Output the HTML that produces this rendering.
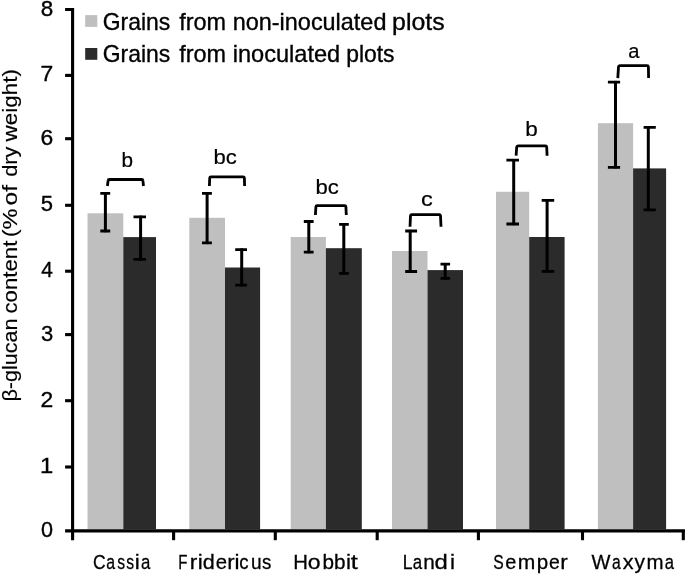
<!DOCTYPE html>
<html><head><meta charset="utf-8"><title>chart</title>
<style>
html,body{margin:0;padding:0;background:#fff;}
body{width:685px;height:574px;overflow:hidden;}
svg{display:block;filter:grayscale(1);}
text{font-family:"Liberation Sans",sans-serif;fill:#000;stroke:#000;stroke-width:0.35px;}
</style></head><body>
<svg width="685" height="574" viewBox="0 0 685 574">
<rect width="685" height="574" fill="#fff"/>
<rect x="87.5" y="213.3" width="35.8" height="316.0" fill="#bfbfbf"/>
<rect x="123.3" y="237.1" width="32.7" height="292.2" fill="#2b2b2b"/>
<rect x="189.3" y="217.8" width="35.7" height="311.5" fill="#bfbfbf"/>
<rect x="225.0" y="267.5" width="35.1" height="261.8" fill="#2b2b2b"/>
<rect x="290.7" y="237.0" width="35.2" height="292.3" fill="#bfbfbf"/>
<rect x="325.9" y="248.2" width="35.9" height="281.1" fill="#2b2b2b"/>
<rect x="392.0" y="251.0" width="35.5" height="278.3" fill="#bfbfbf"/>
<rect x="427.5" y="270.1" width="35.5" height="259.2" fill="#2b2b2b"/>
<rect x="496.0" y="191.8" width="33.2" height="337.5" fill="#bfbfbf"/>
<rect x="529.2" y="237.0" width="35.4" height="292.3" fill="#2b2b2b"/>
<rect x="597.9" y="123.2" width="35.2" height="406.1" fill="#bfbfbf"/>
<rect x="633.1" y="168.4" width="33.0" height="360.9" fill="#2b2b2b"/>
<g stroke="#000" stroke-width="3.1" fill="none">
<path d="M65.1 9.50H72.6V540.2"/>
<path d="M65.1 530.85H685"/>
<path d="M65.1 467.00H72.6"/>
<path d="M65.1 400.70H72.6"/>
<path d="M65.1 334.60H72.6"/>
<path d="M65.1 271.20H72.6"/>
<path d="M65.1 205.30H72.6"/>
<path d="M65.1 138.70H72.6"/>
<path d="M65.1 75.40H72.6"/>
<path d="M173.60 530.85V540.2"/>
<path d="M275.30 530.85V540.2"/>
<path d="M377.20 530.85V540.2"/>
<path d="M478.40 530.85V540.2"/>
<path d="M582.50 530.85V540.2"/>
<path d="M683.30 530.85V540.2"/>
</g>
<g stroke="#000" stroke-width="3.1" fill="none">
<path d="M105.4 192.1V232.2" stroke-width="3.0"/><path d="M100.3 193.3H110.2M100.3 231.0H110.2" stroke-width="2.8"/>
<path d="M140.6 215.6V260.6" stroke-width="3.0"/><path d="M133.5 216.8H146.0M133.5 259.4H146.0" stroke-width="2.8"/>
<path d="M207.1 192.1V244.1" stroke-width="3.0"/><path d="M202.0 193.3H211.9M202.0 242.9H211.9" stroke-width="2.8"/>
<path d="M241.7 248.4V286.4" stroke-width="3.0"/><path d="M235.2 249.6H247.0M235.2 285.2H247.0" stroke-width="2.8"/>
<path d="M308.8 220.3V253.3" stroke-width="3.0"/><path d="M303.8 221.5H313.6M303.8 252.1H313.6" stroke-width="2.8"/>
<path d="M343.8 223.1V274.6" stroke-width="3.0"/><path d="M339.1 224.3H348.8M339.1 273.4H348.8" stroke-width="2.8"/>
<path d="M410.2 229.8V272.7" stroke-width="3.0"/><path d="M405.2 231.0H417.1M405.2 271.5H417.1" stroke-width="2.8"/>
<path d="M445.2 263.0V279.5" stroke-width="3.0"/><path d="M440.5 264.2H450.1M440.5 278.3H450.1" stroke-width="2.8"/>
<path d="M513.7 159.0V225.2" stroke-width="3.0"/><path d="M506.4 160.2H519.0M506.4 224.0H519.0" stroke-width="2.8"/>
<path d="M547.1 199.2V272.6" stroke-width="3.0"/><path d="M541.7 200.4H554.2M541.7 271.4H554.2" stroke-width="2.8"/>
<path d="M615.5 80.9V168.5" stroke-width="3.0"/><path d="M607.9 82.1H620.1M607.9 167.3H620.1" stroke-width="2.8"/>
<path d="M648.3 126.2V211.1" stroke-width="3.0"/><path d="M643.6 127.4H655.8M643.6 209.9H655.8" stroke-width="2.8"/>
</g>
<g stroke="#000" stroke-width="2.8" fill="none" stroke-linejoin="round">
<path d="M107.4 186.0L108.1 180.7Q108.2 179.5 109.4 179.5H141.6Q142.8 179.5 142.9 180.7L143.5 186.0"/>
<path d="M209.4 186.0L209.7 178.1Q209.8 176.9 211.0 176.9H243.1Q244.3 176.9 244.4 178.1L244.6 186.0"/>
<path d="M315.4 215.0L315.9 206.8Q316.0 205.6 317.2 205.6H344.6Q345.8 205.6 345.9 206.8L346.3 215.0"/>
<path d="M410.0 226.8L410.5 215.8Q410.6 214.6 411.8 214.6H439.2Q440.4 214.6 440.5 215.8L441.0 226.8"/>
<path d="M516.1 155.7L516.7 147.0Q516.8 145.8 518.0 145.8H545.4Q546.6 145.8 546.7 147.0L547.1 155.7"/>
<path d="M617.8 78.1L618.5 66.9Q618.6 65.7 619.8 65.7H647.1Q648.3 65.7 648.4 66.9L648.6 78.1"/>
</g>
<text x="102.75" y="29.70" font-size="24" textLength="67.49" lengthAdjust="spacingAndGlyphs">Grains</text>
<text x="179.21" y="29.70" font-size="24" textLength="46.85" lengthAdjust="spacingAndGlyphs">from</text>
<text x="232.74" y="29.70" font-size="24" textLength="153.68" lengthAdjust="spacingAndGlyphs">non-inoculated</text>
<text x="392.14" y="29.70" font-size="24" textLength="52.49" lengthAdjust="spacingAndGlyphs">plots</text>
<text x="102.75" y="62.10" font-size="24" textLength="67.49" lengthAdjust="spacingAndGlyphs">Grains</text>
<text x="179.21" y="62.10" font-size="24" textLength="46.85" lengthAdjust="spacingAndGlyphs">from</text>
<text x="232.73" y="62.10" font-size="24" textLength="107.46" lengthAdjust="spacingAndGlyphs">inoculated</text>
<text x="346.28" y="62.10" font-size="24" textLength="48.28" lengthAdjust="spacingAndGlyphs">plots</text>
<text style="stroke-width:0.2px" x="121.58" y="166.60" font-size="20.5" textLength="11.53" lengthAdjust="spacingAndGlyphs">b</text>
<text style="stroke-width:0.2px" x="213.49" y="163.90" font-size="20.5" textLength="23.31" lengthAdjust="spacingAndGlyphs">bc</text>
<text style="stroke-width:0.2px" x="315.59" y="194.10" font-size="20.5" textLength="23.31" lengthAdjust="spacingAndGlyphs">bc</text>
<text style="stroke-width:0.2px" x="420.98" y="206.20" font-size="20.5" textLength="11.76" lengthAdjust="spacingAndGlyphs">c</text>
<text style="stroke-width:0.2px" x="525.36" y="135.90" font-size="20.5" textLength="12.52" lengthAdjust="spacingAndGlyphs">b</text>
<text style="stroke-width:0.2px" x="628.22" y="57.80" font-size="20.5" textLength="11.19" lengthAdjust="spacingAndGlyphs">a</text>
<text style="stroke-width:0.28px" x="92.95" y="569.20" font-size="20.5" textLength="12.65" lengthAdjust="spacingAndGlyphs">C</text>
<text style="stroke-width:0.28px" x="106.28" y="569.20" font-size="20.5" textLength="8.82" lengthAdjust="spacingAndGlyphs">a</text>
<text style="stroke-width:0.28px" x="117.14" y="569.20" font-size="20.5" textLength="7.80" lengthAdjust="spacingAndGlyphs">s</text>
<text style="stroke-width:0.28px" x="126.34" y="569.20" font-size="20.5" textLength="7.80" lengthAdjust="spacingAndGlyphs">s</text>
<text style="stroke-width:0.28px" x="134.77" y="569.20" font-size="20.5" textLength="5.02" lengthAdjust="spacingAndGlyphs">i</text>
<text style="stroke-width:0.28px" x="140.94" y="569.20" font-size="20.5" textLength="9.36" lengthAdjust="spacingAndGlyphs">a</text>
<text style="stroke-width:0.28px" x="178.23" y="569.20" font-size="20.5" textLength="9.15" lengthAdjust="spacingAndGlyphs">F</text>
<text style="stroke-width:0.28px" x="189.86" y="569.20" font-size="20.5" textLength="7.51" lengthAdjust="spacingAndGlyphs">r</text>
<text style="stroke-width:0.28px" x="197.67" y="569.20" font-size="20.5" textLength="5.02" lengthAdjust="spacingAndGlyphs">i</text>
<text style="stroke-width:0.28px" x="202.66" y="569.20" font-size="20.5" textLength="12.03" lengthAdjust="spacingAndGlyphs">d</text>
<text style="stroke-width:0.28px" x="215.81" y="569.20" font-size="20.5" textLength="11.29" lengthAdjust="spacingAndGlyphs">e</text>
<text style="stroke-width:0.28px" x="227.19" y="569.20" font-size="20.5" textLength="7.37" lengthAdjust="spacingAndGlyphs">r</text>
<text style="stroke-width:0.28px" x="234.52" y="569.20" font-size="20.5" textLength="5.02" lengthAdjust="spacingAndGlyphs">i</text>
<text style="stroke-width:0.28px" x="239.27" y="569.20" font-size="20.5" textLength="9.32" lengthAdjust="spacingAndGlyphs">c</text>
<text style="stroke-width:0.28px" x="251.10" y="569.20" font-size="20.5" textLength="10.61" lengthAdjust="spacingAndGlyphs">u</text>
<text style="stroke-width:0.28px" x="262.05" y="569.20" font-size="20.5" textLength="9.32" lengthAdjust="spacingAndGlyphs">s</text>
<text style="stroke-width:0.28px" x="293.31" y="569.20" font-size="20.5" textLength="14.68" lengthAdjust="spacingAndGlyphs">H</text>
<text style="stroke-width:0.28px" x="307.70" y="569.20" font-size="20.5" textLength="12.80" lengthAdjust="spacingAndGlyphs">o</text>
<text style="stroke-width:0.28px" x="322.48" y="569.20" font-size="20.5" textLength="11.53" lengthAdjust="spacingAndGlyphs">b</text>
<text style="stroke-width:0.28px" x="333.98" y="569.20" font-size="20.5" textLength="11.53" lengthAdjust="spacingAndGlyphs">b</text>
<text style="stroke-width:0.28px" x="345.92" y="569.20" font-size="20.5" textLength="5.02" lengthAdjust="spacingAndGlyphs">i</text>
<text style="stroke-width:0.28px" x="350.81" y="569.20" font-size="20.5" textLength="7.02" lengthAdjust="spacingAndGlyphs">t</text>
<text style="stroke-width:0.28px" x="402.63" y="569.20" font-size="20.5" textLength="9.79" lengthAdjust="spacingAndGlyphs">L</text>
<text style="stroke-width:0.28px" x="412.74" y="569.20" font-size="20.5" textLength="9.36" lengthAdjust="spacingAndGlyphs">a</text>
<text style="stroke-width:0.28px" x="423.18" y="569.20" font-size="20.5" textLength="11.54" lengthAdjust="spacingAndGlyphs">n</text>
<text style="stroke-width:0.28px" x="434.47" y="569.20" font-size="20.5" textLength="13.27" lengthAdjust="spacingAndGlyphs">d</text>
<text style="stroke-width:0.28px" x="450.02" y="569.20" font-size="20.5" textLength="5.02" lengthAdjust="spacingAndGlyphs">i</text>
<text style="stroke-width:0.28px" x="493.24" y="569.20" font-size="20.5" textLength="10.44" lengthAdjust="spacingAndGlyphs">S</text>
<text style="stroke-width:0.28px" x="505.33" y="569.20" font-size="20.5" textLength="11.05" lengthAdjust="spacingAndGlyphs">e</text>
<text style="stroke-width:0.28px" x="517.76" y="569.20" font-size="20.5" textLength="17.55" lengthAdjust="spacingAndGlyphs">m</text>
<text style="stroke-width:0.28px" x="536.70" y="569.20" font-size="20.5" textLength="11.41" lengthAdjust="spacingAndGlyphs">p</text>
<text style="stroke-width:0.28px" x="549.04" y="569.20" font-size="20.5" textLength="10.81" lengthAdjust="spacingAndGlyphs">e</text>
<text style="stroke-width:0.28px" x="560.16" y="569.20" font-size="20.5" textLength="7.51" lengthAdjust="spacingAndGlyphs">r</text>
<text style="stroke-width:0.28px" x="591.50" y="569.20" font-size="20.5" textLength="18.95" lengthAdjust="spacingAndGlyphs">W</text>
<text style="stroke-width:0.28px" x="612.09" y="569.20" font-size="20.5" textLength="8.72" lengthAdjust="spacingAndGlyphs">a</text>
<text style="stroke-width:0.28px" x="622.78" y="569.20" font-size="20.5" textLength="10.78" lengthAdjust="spacingAndGlyphs">x</text>
<text style="stroke-width:0.28px" x="634.40" y="569.20" font-size="20.5" textLength="10.45" lengthAdjust="spacingAndGlyphs">y</text>
<text style="stroke-width:0.28px" x="646.40" y="569.20" font-size="20.5" textLength="17.08" lengthAdjust="spacingAndGlyphs">m</text>
<text style="stroke-width:0.28px" x="664.85" y="569.20" font-size="20.5" textLength="9.25" lengthAdjust="spacingAndGlyphs">a</text>
<text x="40.68" y="15.50" font-size="22" textLength="12.49" lengthAdjust="spacingAndGlyphs">8</text>
<text x="40.45" y="81.40" font-size="22" textLength="12.74" lengthAdjust="spacingAndGlyphs">7</text>
<text x="40.45" y="144.70" font-size="22" textLength="12.74" lengthAdjust="spacingAndGlyphs">6</text>
<text x="40.70" y="211.30" font-size="22" textLength="12.25" lengthAdjust="spacingAndGlyphs">5</text>
<text x="41.13" y="277.20" font-size="22" textLength="11.58" lengthAdjust="spacingAndGlyphs">4</text>
<text x="40.90" y="340.60" font-size="22" textLength="12.25" lengthAdjust="spacingAndGlyphs">3</text>
<text x="40.45" y="406.70" font-size="22" textLength="12.74" lengthAdjust="spacingAndGlyphs">2</text>
<text x="39.97" y="473.00" font-size="22" textLength="13.27" lengthAdjust="spacingAndGlyphs">1</text>
<text x="40.92" y="536.85" font-size="22" textLength="12.02" lengthAdjust="spacingAndGlyphs">0</text>
<rect x="85.2" y="15.1" width="12.1" height="11.8" fill="#bfbfbf"/>
<rect x="85.2" y="48.0" width="12.1" height="11.8" fill="#2b2b2b"/>
<text style="stroke-width:0.15px" transform="translate(17.4,401.61) rotate(-90)" font-size="20" textLength="83.12" lengthAdjust="spacingAndGlyphs">β-glucan</text>
<text style="stroke-width:0.15px" transform="translate(17.4,313.49) rotate(-90)" font-size="20" textLength="72.82" lengthAdjust="spacingAndGlyphs">content</text>
<text style="stroke-width:0.15px" transform="translate(17.4,237.31) rotate(-90)" font-size="20" textLength="28.78" lengthAdjust="spacingAndGlyphs">(%</text>
<text style="stroke-width:0.15px" transform="translate(17.4,205.48) rotate(-90)" font-size="20" textLength="20.49" lengthAdjust="spacingAndGlyphs">of</text>
<text style="stroke-width:0.15px" transform="translate(17.4,176.87) rotate(-90)" font-size="20" textLength="30.29" lengthAdjust="spacingAndGlyphs">dry</text>
<text style="stroke-width:0.15px" transform="translate(17.4,141.50) rotate(-90)" font-size="20" textLength="72.44" lengthAdjust="spacingAndGlyphs">weight)</text>
</svg>
</body></html>
